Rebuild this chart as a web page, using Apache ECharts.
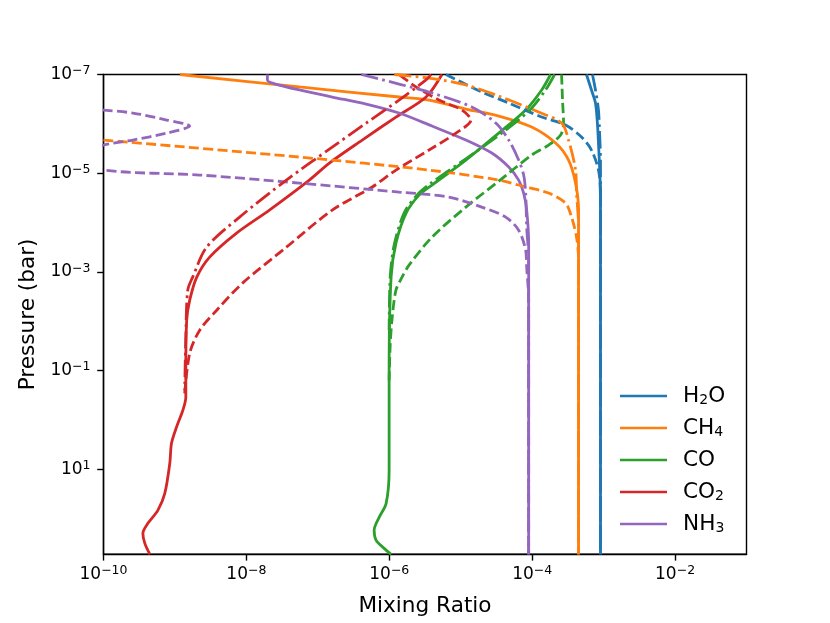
<!DOCTYPE html>
<html><head><meta charset="utf-8">
<script src="https://cdn.jsdelivr.net/npm/echarts@6/dist/echarts.min.js"></script>
<style>html,body{margin:0;padding:0;background:#fff}#c{width:830px;height:623px}</style>
</head><body><div id="c"></div>
<script>
// ---- data: [mixing ratio, pressure (bar)] ----
const species = ['H2O', 'CH4', 'CO', 'CO2', 'NH3'];
const xTicks = [1e-10, 1e-8, 1e-6, 1e-4, 1e-2];
const yTicks = [1e-7, 1e-5, 1e-3, 1e-1, 1e1];

const h2o_solid = [[5.75e-4,1e-7],[6.76e-4,2.06e-7],[7.69e-4,3.78e-7],[8.2e-4,1.0e-6],[8.47e-4,2.45e-6],[8.9e-4,1.2e-5],[9.04e-4,5.6e-5],[9.04e-4,530]];
const h2o_dashed = [[6.21e-6,1e-7],[1.97e-5,2.26e-7],[4.70e-5,3.78e-7],[1.36e-4,7.28e-7],[2.93e-4,1.06e-6],[4.90e-4,1.85e-6],[6.76e-4,3.40e-6],[8.47e-4,8.65e-6],[9.04e-4,2.53e-5],[9.04e-4,530]];
const h2o_dashdot = [[6.98e-4,1e-7],[7.69e-4,2.06e-7],[8.47e-4,5.25e-7],[8.75e-4,1.34e-6],[9.04e-4,5.42e-6],[9.04e-4,530]];

const ch4_solid = [[1.17e-9,1e-7],[5.52e-8,1.79e-7],[1.37e-6,2.86e-7],[3.60e-6,3.29e-7],[1.18e-5,5.01e-7],[3.41e-5,6.95e-7],[9.84e-5,1.16e-6],[2.13e-4,2.45e-6],[3.23e-4,5.42e-6],[4.05e-4,1.59e-5],[4.46e-4,5.6e-5],[4.46e-4,530]];
const ch4_dashed = [[1e-10,2.13e-6],[5.52e-8,4.71e-6],[3.60e-6,8.65e-6],[3.41e-5,1.38e-5],[8.11e-5,1.91e-5],[1.70e-4,2.53e-5],[2.93e-4,4.04e-5],[3.56e-4,7.77e-5],[4.18e-4,1.98e-4],[4.46e-4,5.79e-4],[4.46e-4,530]];
const ch4_dashdot = [[1.17e-6,1e-7],[3.60e-6,1.18e-7],[1.18e-5,1.63e-7],[3.41e-5,2.73e-7],[1.23e-4,5.77e-7],[2.58e-4,9.63e-7],[3.23e-4,2.13e-6],[4.05e-4,8.65e-6],[4.18e-4,2.53e-5],[4.46e-4,1.24e-4],[4.46e-4,530]];

const co_solid = [[1.81e-4,1e-7],[1.36e-4,2.06e-7],[8.11e-5,5.25e-7],[3.41e-5,1.54e-6],[1.18e-5,5.42e-6],[3.96e-6,1.74e-5],[2.61e-6,2.78e-5],[1.72e-6,6.44e-5],[1.24e-6,2.62e-4],[1.06e-6,1.28e-3],[9.95e-7,9.86e-2],[9.95e-7,10.5],[9.04e-7,49.2],[7.21e-7,94.6],[6.14e-7,173],[6.55e-7,277],[8.47e-7,402],[1.06e-6,532]];
const co_dashed = [[2.58e-4,1e-7],[2.66e-4,3.29e-7],[2.75e-4,9.63e-7],[2.50e-4,1.69e-6],[1.70e-4,2.69e-6],[9.84e-5,4.30e-6],[3.41e-5,1.45e-5],[1.18e-5,4.87e-5],[3.96e-6,1.98e-4],[1.89e-6,7.31e-4],[1.51e-6,1.28e-3],[1.24e-6,2.35e-3],[1.09e-6,9.55e-3],[1.03e-6,3.07e-2],[9.95e-7,0.157]];
const co_dashdot = [[2.06e-4,1e-7],[1.54e-4,2.06e-7],[9.23e-5,5.25e-7],[3.75e-5,1.54e-6],[1.22e-5,4.94e-6],[3.84e-6,1.59e-5],[2.44e-6,2.78e-5],[1.61e-6,6.44e-5],[1.17e-6,2.87e-4],[1.03e-6,1.28e-3],[9.95e-7,1.52e-2]];

const co2_solid = [[5.46e-6,1e-7],[3.27e-6,2.86e-7],[1.24e-6,7.28e-7],[4.18e-7,2.13e-6],[1.45e-7,6.24e-6],[7.6e-8,1.38e-5],[2.10e-8,5.6e-5],[7.29e-9,1.64e-4],[3.06e-9,5.03e-4],[2.02e-9,1.28e-3],[1.61e-9,3.75e-3],[1.46e-9,9.55e-3],[1.42e-9,9.86e-2],[1.42e-9,0.348],[1.29e-9,0.638],[1.05e-9,1.41],[8.95e-10,2.98],[8.47e-10,7.58],[7.21e-10,30.8],[5.76e-10,68.2],[4.18e-10,125],[3.56e-10,200],[3.79e-10,318],[4.46e-10,532]];
const co2_dashed = [[1.37e-9,0.289],[1.61e-9,4.46e-2],[2.22e-9,1.52e-2],[3.84e-9,5.98e-3],[8.84e-9,1.69e-3],[3.63e-8,3.16e-4],[1.59e-7,5.6e-5],[5.76e-7,1.91e-5],[1.24e-6,8.65e-6],[3.60e-6,3.40e-6],[8.56e-6,1.54e-6],[1.39e-5,8.37e-7],[1.04e-5,5.25e-7],[4.96e-6,3.29e-7],[2.37e-6,1.79e-7],[1.37e-6,1e-7]];
const co2_dashdot = [[3.84e-6,1e-7],[3.27e-6,1.29e-7],[1.37e-6,3.29e-7],[4.75e-7,9.63e-7],[1.59e-7,2.96e-6],[3.63e-8,1.38e-5],[8.03e-9,7.77e-5],[2.78e-9,3.16e-4],[1.77e-9,1.28e-3],[1.51e-9,2.35e-3],[1.42e-9,2.11e-2],[1.37e-9,0.251]];

const nh3_solid = [[1.97e-8,1e-7],[1.97e-8,1.29e-7],[2.32e-8,1.49e-7],[5.52e-8,2.06e-7],[1.59e-7,2.86e-7],[4.75e-7,3.97e-7],[1.37e-6,6.04e-7],[3.96e-6,1.11e-6],[1.18e-5,2.13e-6],[2.72e-5,3.91e-6],[4.70e-5,7.52e-6],[6.47e-5,1.38e-5],[7.60e-5,2.53e-5],[8.38e-5,5.6e-5],[8.93e-5,2.62e-4],[8.93e-5,530]];
const nh3_dashed = [[2.47e-11,4.35e-7],[1e-10,5.25e-7],[2.58e-10,6.04e-7],[7.69e-10,8.37e-7],[1.61e-9,1.11e-6],[7.69e-10,1.54e-6],[2.58e-10,2.13e-6],[1e-10,2.69e-6],[2.47e-11,4.71e-6],[1e-10,8.65e-6],[2.22e-9,1.09e-5],[5.52e-8,1.59e-5],[1.37e-6,2.42e-5],[6.84e-6,3.05e-5],[1.97e-5,4.87e-5],[4.26e-5,7.77e-5],[6.47e-5,1.43e-4],[8.11e-5,3.63e-4],[8.38e-5,8.03e-4],[8.93e-5,3.75e-3],[8.93e-5,530]];
const nh3_dashdot = [[4.05e-7,1e-7],[1.37e-6,1.56e-7],[3.96e-6,2.37e-7],[1.43e-5,4.56e-7],[3.10e-5,9.63e-7],[4.70e-5,2.13e-6],[6.47e-5,5.42e-6],[7.60e-5,1.09e-5],[8.11e-5,2.53e-5],[8.38e-5,1.24e-4],[8.93e-5,5.79e-4],[8.93e-5,530]];

// ---- styles ----
const palette = {H2O:'#1f77b4', CH4:'#ff7f0e', CO:'#2ca02c', CO2:'#d62728', NH3:'#9467bd'};
const dashStyles = {solid:'solid', dashed:[10,4.3], dashdot:[17.3,4.3,2.7,4.3]};
const seriesData = {
  H2O: {solid:h2o_solid, dashed:h2o_dashed, dashdot:h2o_dashdot},
  CH4: {solid:ch4_solid, dashed:ch4_dashed, dashdot:ch4_dashdot},
  CO:  {solid:co_solid,  dashed:co_dashed,  dashdot:co_dashdot},
  CO2: {solid:co2_solid, dashed:co2_dashed, dashdot:co2_dashdot},
  NH3: {solid:nh3_solid, dashed:nh3_dashed, dashdot:nh3_dashdot}
};
const legendRich = {H2O:'{m|H}{s|2}{m|O}', CH4:'{m|CH}{s|4}', CO:'{m|CO}', CO2:'{m|CO}{s|2}', NH3:'{m|NH}{s|3}'};

const FONT = 'DejaVu Sans';
const series = [];
['solid','dashed','dashdot'].forEach(kind => {
  species.forEach(sp => {
    series.push({
      name: kind === 'solid' ? sp : sp + ' ' + kind,
      type: 'line',
      data: seriesData[sp][kind],
      showSymbol: false,
      symbol: 'none',
      smooth: 0.3,
      clip: true,
      silent: true,
      animation: false,
      itemStyle: {color: palette[sp]},
      lineStyle: {color: palette[sp], width: 2.8, type: dashStyles[kind], cap: 'butt'}
    });
  });
});

function powLabel(v) {
  const e = Math.round(Math.log10(v));
  return '{b|10}{p|' + (e < 0 ? '\u2212' + (-e) : e) + '}';
}
const tickRich = {
  b: {fontFamily: FONT, fontSize: 17, lineHeight: 20, verticalAlign: 'middle', color: '#000'},
  p: {fontFamily: FONT, fontSize: 12.5, lineHeight: 9, verticalAlign: 'top', color: '#000'}
};

const chart = echarts.init(document.getElementById('c'), null, {renderer: 'canvas'});
chart.setOption({
  animation: false,
  backgroundColor: '#fff',
  grid: {left: 103.5, right: 83.5, top: 74.5, bottom: 68.7, show: true, borderColor: '#000', borderWidth: 1.4, containLabel: false},
  xAxis: {
    type: 'log', logBase: 10, min: xTicks[0], max: 1e-1, interval: 2,
    name: 'Mixing Ratio', nameLocation: 'middle', nameGap: 41,
    nameTextStyle: {fontFamily: FONT, fontSize: 21.6, color: '#000'},
    axisLine: {lineStyle: {color: '#000', width: 1.4}},
    axisTick: {show: true, inside: false, length: 6.3, lineStyle: {color: '#000', width: 1.4}},
    axisLabel: {margin: 10, showMaxLabel: false, formatter: powLabel, rich: tickRich, color: '#000'},
    splitLine: {show: false}, minorTick: {show: false}
  },
  yAxis: {
    type: 'log', logBase: 10, min: yTicks[0], max: 530, interval: 2, inverse: true,
    name: 'Pressure (bar)', nameLocation: 'middle', nameGap: 61, nameRotate: 90,
    nameTextStyle: {fontFamily: FONT, fontSize: 21.6, color: '#000'},
    axisLine: {lineStyle: {color: '#000', width: 1.4}},
    axisTick: {show: true, inside: false, length: 6.3, lineStyle: {color: '#000', width: 1.4}},
    axisLabel: {margin: 13, showMaxLabel: false, formatter: powLabel, rich: tickRich, color: '#000'},
    splitLine: {show: false}, minorTick: {show: false}
  },
  legend: {
    data: species, orient: 'vertical', left: 620, top: 385, padding: 0,
    itemWidth: 47, itemHeight: 2.7, itemGap: 10, icon: 'rect',
    itemStyle: {borderWidth: 0},
    formatter: n => legendRich[n],
    selectedMode: false,
    textStyle: {
      fontFamily: FONT, fontSize: 21.6, color: '#000', padding: [0, 0, 0, 11],
      rich: {
        m: {fontFamily: FONT, fontSize: 21.6, lineHeight: 22, verticalAlign: 'middle', color: '#000'},
        s: {fontFamily: FONT, fontSize: 14, lineHeight: 3, verticalAlign: 'bottom', color: '#000'}
      }
    }
  },
  series: series
});
</script>
</body></html>
